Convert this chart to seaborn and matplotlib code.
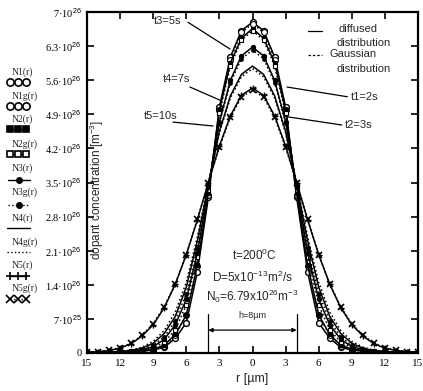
import numpy as np
import pandas as pd
import matplotlib
matplotlib.use("Agg")
import matplotlib.pyplot as plt
import seaborn as sns
from matplotlib.lines import Line2D

# ---------------- data (concentration in units of 1e26 m^-3) ----------------
r_um = list(range(-15, 16))

N1 = [0.01, 0.01, 0.02, 0.02, 0.03, 0.04, 0.06, 0.12, 0.30, 0.62, 1.66, 3.20, 5.05, 6.08, 6.62,
      6.79,
      6.62, 6.08, 5.05, 3.20, 1.66, 0.62, 0.30, 0.12, 0.06, 0.04, 0.03, 0.02, 0.02, 0.01, 0.01]
N1g = [0.01, 0.01, 0.01, 0.02, 0.03, 0.04, 0.07, 0.15, 0.36, 0.78, 1.78, 3.25, 4.98, 6.02, 6.58,
       6.76,
       6.58, 6.02, 4.98, 3.25, 1.78, 0.78, 0.36, 0.15, 0.07, 0.04, 0.03, 0.02, 0.01, 0.01, 0.01]
N2 = [0.01, 0.01, 0.02, 0.02, 0.03, 0.05, 0.08, 0.16, 0.38, 0.78, 1.80, 3.28, 4.98, 5.96, 6.46,
      6.66,
      6.46, 5.96, 4.98, 3.28, 1.80, 0.78, 0.38, 0.16, 0.08, 0.05, 0.03, 0.02, 0.02, 0.01, 0.01]
N2g = [0.01, 0.01, 0.02, 0.02, 0.04, 0.06, 0.11, 0.22, 0.48, 0.98, 1.98, 3.35, 4.92, 5.90, 6.42,
       6.62,
       6.42, 5.90, 4.92, 3.35, 1.98, 0.98, 0.48, 0.22, 0.11, 0.06, 0.04, 0.02, 0.02, 0.01, 0.01]
N3 = [0.01, 0.01, 0.02, 0.03, 0.04, 0.07, 0.13, 0.28, 0.58, 1.10, 2.05, 3.40, 4.75, 5.60, 6.10,
      6.28,
      6.10, 5.60, 4.75, 3.40, 2.05, 1.10, 0.58, 0.28, 0.13, 0.07, 0.04, 0.03, 0.02, 0.01, 0.01]
N3g = [0.01, 0.01, 0.02, 0.03, 0.05, 0.08, 0.16, 0.33, 0.66, 1.22, 2.15, 3.45, 4.72, 5.55, 6.04,
       6.22,
       6.04, 5.55, 4.72, 3.45, 2.15, 1.22, 0.66, 0.33, 0.16, 0.08, 0.05, 0.03, 0.02, 0.01, 0.01]
N4 = [0.01, 0.01, 0.02, 0.03, 0.05, 0.10, 0.20, 0.40, 0.75, 1.35, 2.30, 3.45, 4.55, 5.28, 5.72,
      5.89,
      5.72, 5.28, 4.55, 3.45, 2.30, 1.35, 0.75, 0.40, 0.20, 0.10, 0.05, 0.03, 0.02, 0.01, 0.01]
N4g = [0.01, 0.01, 0.02, 0.03, 0.06, 0.12, 0.24, 0.46, 0.84, 1.45, 2.38, 3.48, 4.52, 5.24, 5.67,
       5.84,
       5.67, 5.24, 4.52, 3.48, 2.38, 1.45, 0.84, 0.46, 0.24, 0.12, 0.06, 0.03, 0.02, 0.01, 0.01]
N5 = [0.01, 0.03, 0.05, 0.10, 0.19, 0.35, 0.58, 0.93, 1.41, 2.02, 2.73, 3.50, 4.25, 4.87, 5.29,
      5.44,
      5.29, 4.87, 4.25, 3.50, 2.73, 2.02, 1.41, 0.93, 0.58, 0.35, 0.19, 0.10, 0.05, 0.03, 0.01]
N5g = [0.02, 0.03, 0.06, 0.11, 0.20, 0.37, 0.60, 0.95, 1.42, 2.02, 2.75, 3.50, 4.22, 4.84, 5.25,
       5.40,
       5.25, 4.84, 4.22, 3.50, 2.75, 2.02, 1.42, 0.95, 0.60, 0.37, 0.20, 0.11, 0.06, 0.03, 0.02]

series_names = ["N1(r)", "N1g(r)", "N2(r)", "N2g(r)", "N3(r)", "N3g(r)",
                "N4(r)", "N4g(r)", "N5(r)", "N5g(r)"]
series_values = [N1, N1g, N2, N2g, N3, N3g, N4, N4g, N5, N5g]
unit = 1e26

x_ticks = [-15, -12, -9, -6, -3, 0, 3, 6, 9, 12, 15]
x_tick_labels = ["15", "12", "9", "6", "3", "0", "3", "6", "9", "12", "15"]
y_ticks = [0, 0.7, 1.4, 2.1, 2.8, 3.5, 4.2, 4.9, 5.6, 6.3, 7.0]
y_tick_labels = ["0", "7·10$^{25}$", "1.4·10$^{26}$", "2.1·10$^{26}$", "2.8·10$^{26}$",
                 "3.5·10$^{26}$", "4.2·10$^{26}$", "4.9·10$^{26}$", "5.6·10$^{26}$",
                 "6.3·10$^{26}$", "7·10$^{26}$"]

# ---------------- styles ----------------
styles = {
    "N1(r)":  dict(marker='o', ls='-', mfc='white', ms=4.2, mew=1.0),
    "N1g(r)": dict(marker='o', ls=':', mfc='white', ms=4.2, mew=0.8),
    "N2(r)":  dict(marker='s', ls='-', mfc='black', ms=3.2, mew=0.8),
    "N2g(r)": dict(marker='s', ls=':', mfc='white', ms=3.4, mew=0.8),
    "N3(r)":  dict(marker='o', ls='-', mfc='black', ms=3.0, mew=0.8),
    "N3g(r)": dict(marker='o', ls=':', mfc='black', ms=2.6, mew=0.8),
    "N4(r)":  dict(marker=None, ls='-'),
    "N4g(r)": dict(marker=None, ls=':'),
    "N5(r)":  dict(marker='+', ls='-', ms=4.5, mew=1.0),
    "N5g(r)": dict(marker='x', ls=':', ms=4.5, mew=1.2),
}

sns.set_style("ticks")
plt.rcParams['font.family'] = ['Liberation Sans', 'DejaVu Sans']
plt.rcParams['mathtext.fontset'] = 'custom'
plt.rcParams['mathtext.rm'] = 'Liberation Sans'

W, H = 423, 391
fig = plt.figure(figsize=(W / 100, H / 100), dpi=100)
ax = fig.add_axes([87 / W, 38 / H, 331 / W, 341 / H])

for name, vals in zip(series_names, series_values):
    df = pd.DataFrame({"r": r_um, "N": np.array(vals) * unit})
    st = styles[name]
    sns.lineplot(data=df, x="r", y="N", ax=ax, color='black', lw=1.1,
                 markeredgecolor='black', **st)

ax.set_xlim(-15, 15)
ax.set_ylim(0, 7e26)
ax.set_xticks(x_ticks)
ax.set_xticklabels(x_tick_labels, fontfamily='Liberation Serif', fontsize=8)
ax.set_yticks([v * unit for v in y_ticks])
ax.set_yticklabels(y_tick_labels, fontfamily='Liberation Serif', fontsize=7.5)
ax.tick_params(direction='in', top=True, right=True, length=5, width=1.2, pad=4,
               colors='black')
for s in ax.spines.values():
    s.set_linewidth(1.6)
    s.set_color('black')
ax.set_xlabel("r [µm]", fontsize=9, labelpad=4)
ax.set_ylabel("")
ax.text(-14.1, 3.35 * unit, "dopant concentration [m$^{-3}$]", rotation=90,
        ha='center', va='center', fontsize=8.5)

# annotations for times
ann = [("t3=5s", (-2.04, 6.24), (-5.85, 6.79), 'right'),
       ("t4=7s", (-2.95, 5.19), (-5.67, 5.46), 'right'),
       ("t5=10s", (-3.58, 4.66), (-7.2, 4.74), 'right'),
       ("t1=2s", (3.13, 5.46), (8.6, 5.26), 'left'),
       ("t2=3s", (3.13, 4.85), (8.1, 4.68), 'left')]
txt_pos = {"t3=5s": (-7.7, 6.82), "t4=7s": (-6.9, 5.62), "t5=10s": (-8.3, 4.86),
           "t1=2s": (10.2, 5.26), "t2=3s": (9.6, 4.68)}
for lab, tip, start, side in ann:
    ax.plot([start[0], tip[0]], [start[1] * unit, tip[1] * unit], color='black', lw=0.9)
    tx, ty = txt_pos[lab]
    ax.text(tx, ty * unit, lab, ha='center', va='center', fontsize=8)

# legend (top right)
ax.plot([5.0, 6.3], [6.62 * unit, 6.62 * unit], color='black', lw=0.9)
ax.text(7.8, 6.66 * unit, "diffused", fontsize=8, va='center')
ax.text(7.6, 6.36 * unit, "distribution", fontsize=8, va='center')
ax.plot([5.0, 6.3], [6.12 * unit, 6.12 * unit], color='black', lw=0.9, ls=(0, (2, 1.5)))
ax.text(7.0, 6.14 * unit, "Gaussian", fontsize=8, va='center')
ax.text(7.6, 5.84 * unit, "distribution", fontsize=8, va='center')

# central parameters
ax.text(0.2, 2.01 * unit, "t=200$^{0}$C", ha='center', va='center', fontsize=8.5)
ax.text(0.0, 1.56 * unit, "D=5x10$^{-13}$m$^{2}$/s", ha='center', va='center', fontsize=8.5)
ax.text(0.0, 1.17 * unit, "N$_{0}$=6.79x10$^{26}$m$^{-3}$", ha='center', va='center', fontsize=8.5)
ax.text(0.0, 0.76 * unit, "h=8µm", ha='center', va='center', fontsize=6.5)
ax.plot([-4, -4], [0, 0.8 * unit], color='black', lw=0.9)
ax.plot([4, 4], [0, 0.8 * unit], color='black', lw=0.9)
ax.annotate("", xy=(4, 0.47 * unit), xytext=(-4, 0.47 * unit),
            arrowprops=dict(arrowstyle='<|-|>', color='black', lw=0.9,
                            mutation_scale=6, shrinkA=0, shrinkB=0))

# left-side legend column
def fx(px):
    return px / W

def fy(py):
    return 1 - py / H

leg_rows = [("N1(r)", 72, 82), ("N1g(r)", 96, 106), ("N2(r)", 119, 129),
            ("N2g(r)", 144, 154), ("N3(r)", 168, 180), ("N3g(r)", 192, 205),
            ("N4(r)", 218, 228), ("N4g(r)", 242, 252), ("N5(r)", 265, 276),
            ("N5g(r)", 288, 299)]
for name, ty, sy in leg_rows:
    fig.text(fx(12), fy(ty), name, fontfamily='Liberation Serif', fontsize=7,
             va='center', ha='left')
    st = dict(styles[name])
    if name in ("N3(r)", "N3g(r)"):
        fig.add_artist(Line2D([fx(8), fx(30)], [fy(sy), fy(sy)], transform=fig.transFigure,
                              color='black', lw=1.0, ls=st['ls']))
        fig.add_artist(Line2D([fx(19)], [fy(sy)], transform=fig.transFigure,
                              color='black', marker='o', ms=4, ls='none'))
    elif st.get('marker') is None:
        fig.add_artist(Line2D([fx(7), fx(30)], [fy(sy), fy(sy)], transform=fig.transFigure,
                              color='black', lw=1.0, ls=st['ls']))
    else:
        fig.add_artist(Line2D([fx(10), fx(18), fx(26)], [fy(sy)] * 3,
                              transform=fig.transFigure, color='black', lw=1.0,
                              ls=st['ls'], marker=st['marker'], mfc=st.get('mfc', 'black'),
                              mec='black', ms=st.get('ms', 4) + 1, mew=1.2))

fig.savefig("out.png", dpi=100, facecolor='white')
